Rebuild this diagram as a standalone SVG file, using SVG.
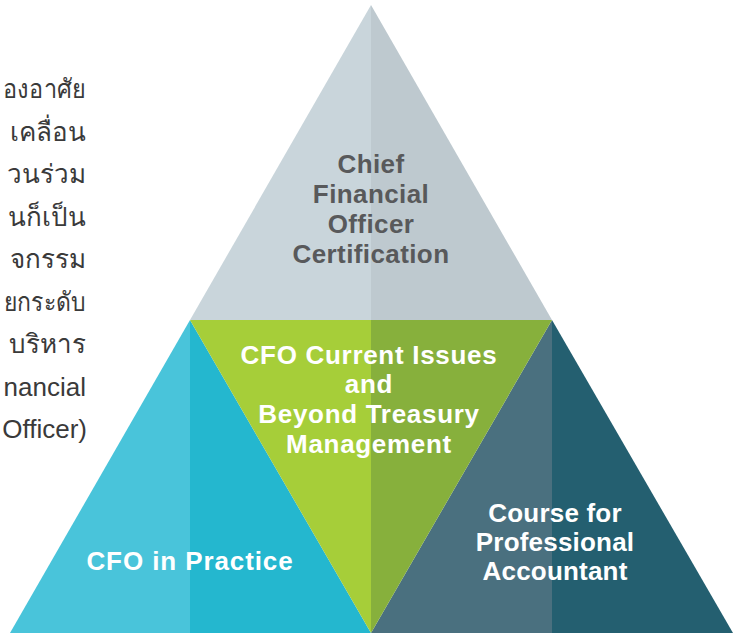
<svg xmlns="http://www.w3.org/2000/svg" width="739" height="635" viewBox="0 0 739 635">
<style>
.intro{font-family:"Liberation Sans","Noto Sans","DejaVu Sans",sans-serif;font-size:26px;fill:#3a3a3a;text-anchor:end}
.lbl{font-family:"Liberation Sans",Arial,sans-serif;font-weight:bold;font-size:26px;text-anchor:middle}
.w{fill:#ffffff}
.g{fill:#58595b}
</style>
<rect width="739" height="635" fill="#ffffff"/>
<g id="intro-text">
<text class="intro" x="86" y="98" textLength="83" lengthAdjust="spacingAndGlyphs">องอาศัย</text>
<text class="intro" x="86" y="141">เคลื่อน</text>
<text class="intro" x="86" y="183">วนร่วม</text>
<text class="intro" x="86" y="226">นก็เป็น</text>
<text class="intro" x="86" y="268">จกรรม</text>
<text class="intro" x="86" y="311" textLength="82" lengthAdjust="spacingAndGlyphs">ยกระดับ</text>
<text class="intro" x="86" y="353">บริหาร</text>
<text class="intro" x="86" y="396">nancial</text>
<text class="intro" x="87" y="438" font-size="25.5">Officer)</text>
</g>
<g id="top-cfo-certification">
<polygon points="371,5 190,320 371,320" fill="#c9d5db"/>
<polygon points="371,5 552,320 371,320" fill="#bec9cf"/>
<text class="lbl g" x="371" y="173" letter-spacing="0.4">Chief</text>
<text class="lbl g" x="371" y="203" letter-spacing="0.4">Financial</text>
<text class="lbl g" x="371" y="233" letter-spacing="0.4">Officer</text>
<text class="lbl g" x="371" y="263" letter-spacing="0.4">Certification</text>
</g>
<g id="left-cfo-in-practice">
<polygon points="190,320 10,633 190,633" fill="#49c4da"/>
<polygon points="190,320 371,633 190,633" fill="#24b7cf"/>
<text class="lbl w" x="190" y="570" letter-spacing="0.9">CFO in Practice</text>
</g>
<g id="right-professional-accountant">
<polygon points="552,320 371,633 552,633" fill="#4a707f"/>
<polygon points="552,320 733,633 552,633" fill="#245f70"/>
<text class="lbl w" x="555" y="522" letter-spacing="0.2">Course for</text>
<text class="lbl w" x="555" y="551" letter-spacing="0.2">Professional</text>
<text class="lbl w" x="555" y="580" letter-spacing="0.2">Accountant</text>
</g>
<g id="middle-current-issues">
<polygon points="190,320 371,320 371,633" fill="#a6ce39"/>
<polygon points="371,320 552,320 371,633" fill="#87b03c"/>
<text class="lbl w" x="369" y="363.5" font-size="27" letter-spacing="0.7">CFO Current Issues</text>
<text class="lbl w" x="369" y="393" font-size="27" letter-spacing="0.7">and</text>
<text class="lbl w" x="369" y="423" font-size="27" letter-spacing="0.7">Beyond Treasury</text>
<text class="lbl w" x="369" y="453" font-size="27" letter-spacing="0.7">Management</text>
</g>
<g id="connectors"></g>
</svg>
